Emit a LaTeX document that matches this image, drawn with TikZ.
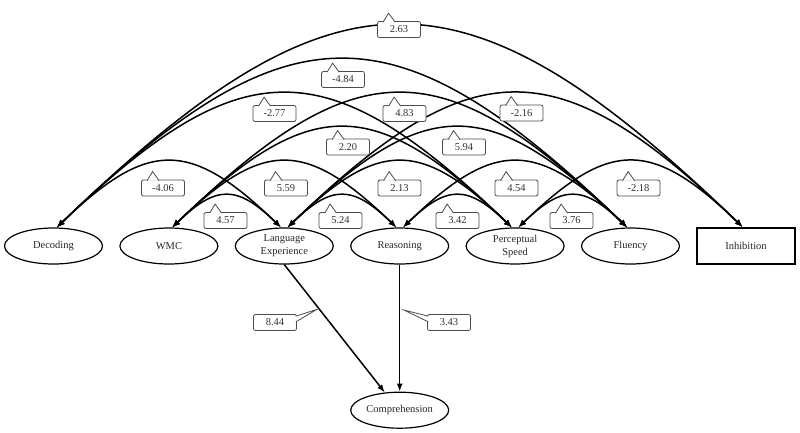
\documentclass[tikz,border=0pt]{standalone}
\usepackage{fontspec}
\setmainfont{Liberation Serif}
\usetikzlibrary{arrows.meta,positioning,shapes.geometric}

\begin{document}
\begin{tikzpicture}[x=1pt,y=1pt,font=\fontsize{10.5}{13}\selectfont,>={Latex[length=8pt,width=6pt]},node distance=16.2pt,
 lat/.style={draw,ellipse,line width=1.2pt,minimum width=98pt,minimum height=36pt,inner sep=0pt,align=center,text=black!85},
 obs/.style={draw,line width=1.8pt,minimum width=98pt,minimum height=36pt,align=center,text=black!85},
 cov/.style={<->,line width=1.5pt,out=44,in=136,looseness=1.45},
 reg/.style={->,line width=1.5pt},
 est/.style={draw=black!70,fill=white,rounded corners=2pt,line width=0.8pt,minimum width=43pt,minimum height=16pt,inner sep=1pt,text=black!80},
 tip/.style={draw=black!70,fill=white,line width=0.8pt}]
\useasboundingbox (0,0) rectangle (800,-432);
% factors
\node[lat] (dec) at (53.5,-246) {Decoding};
\node[lat,right=of dec] (wmc) {WMC};
\node[lat,right=of wmc] (le) {Language\\Experience};
\node[lat,right=of le] (rea) {Reasoning};
\node[lat,right=of rea] (ps) {Perceptual\\Speed};
\node[lat,right=of ps] (flu) {Fluency};
\node[obs,right=16pt of flu] (inh) {Inhibition};
\node[lat,below=127pt of rea] (comp) {Comprehension};
% covariances
\foreach \a/\b in {wmc/le,le/rea,rea/ps,ps/flu,dec/le,wmc/rea,le/ps,rea/flu,ps/inh,
  wmc/ps,le/flu,dec/ps,wmc/flu,le/inh,dec/flu,dec/inh}
  \draw[cov] (\a.80) to (\b.100);
% paths
\draw[reg] (le.south) -- (comp.130);
\draw[reg] (rea.south) -- (comp.north);
% estimates
\foreach \n/\x/\y/\t in {1/399/29.5/2.63, 2/343/79.5/-4.84, 3/274.5/113.5/-2.77, 4/404.5/113.5/4.83,
  5/521.5/113/-2.16, 6/348/147/2.20, 7/464/147/5.94, 8/163/188/-4.06, 9/286/188/5.59,
  10/399.5/188/2.13, 11/516.5/188/4.54, 12/638.5/188/-2.18, 13/225.5/220.5/4.57,
  14/340.5/220.5/5.24, 15/457.5/220.5/3.42, 16/571.5/220.5/3.76}{
  \node[est] (e\n) at (\x,-\y) {\t};
  \draw[tip] ([shift={(6,-1)}]e\n.north west) -- ++(5.5,9) -- ([shift={(18,-1)}]e\n.north west);
}
\node[est] (e17) at (275,-322.5) {8.44};
\draw[tip] ([shift={(-1,-2)}]e17.north east) -- ++(21,6.7) -- ([shift={(-1,-7.7)}]e17.north east);
\node[est] (e18) at (449,-322.5) {3.43};
\draw[tip] ([shift={(1,-2)}]e18.north west) -- ++(-24,6) -- ([shift={(1,-7.7)}]e18.north west);
\end{tikzpicture}
\end{document}
